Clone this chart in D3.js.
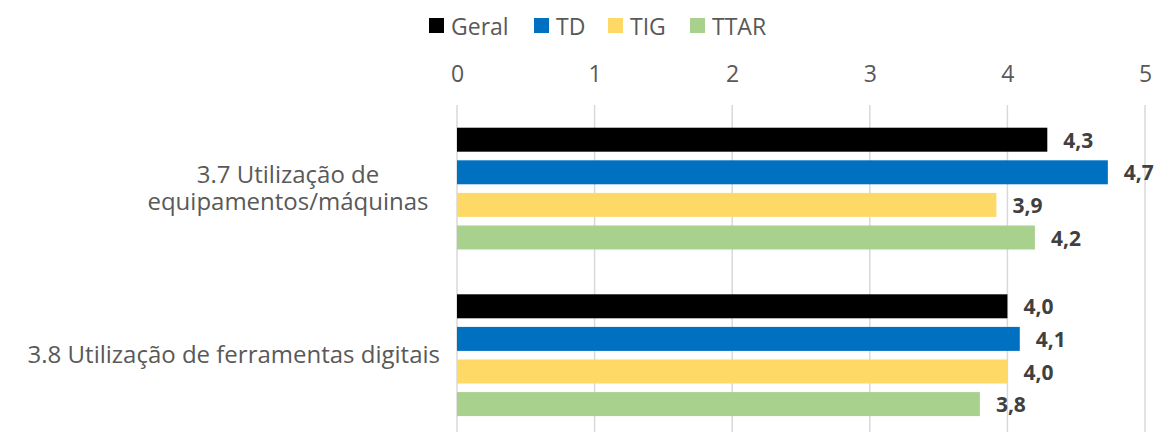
<!DOCTYPE html>
<html>
<head>
<meta charset="utf-8">
<script src="https://cdn.jsdelivr.net/npm/d3@7"></script>
<style>
  body { margin: 0; background: #fff; }
  svg { display: block; font-family: "Open Sans", sans-serif; }
</style>
</head>
<body>
<svg id="chart" width="1154" height="432"></svg>
<script>
// data
var categories = ["3.7 Utilização de equipamentos/máquinas", "3.8 Utilização de ferramentas digitais"];
var categoryLines = [["3.7 Utilização de", "equipamentos/máquinas"], ["3.8 Utilização de ferramentas digitais"]];
var seriesNames = ["Geral", "TD", "TIG", "TTAR"];
var seriesColors = ["#000000", "#0070C0", "#FFD966", "#A9D18E"];
var geral = [4.29, 4.0];
var td = [4.73, 4.09];
var tig = [3.92, 4.0];
var ttar = [4.2, 3.8];
var tickValues = [0, 1, 2, 3, 4, 5];

var seriesValues = [geral, td, tig, ttar];

var svg = d3.select("#chart");
var fmt = function(v) { return d3.format(".1f")(v).replace(".", ","); };

// scales
var x = d3.scaleLinear().domain([0, 5]).range([457, 1145]);
var y = d3.scaleBand().domain(categories).range([105.3, 438.5]);
var ySub = d3.scaleBand().domain(seriesNames).range([0, y.bandwidth()])
  .paddingInner(0.264).paddingOuter(0.687);

// grid lines
svg.append("g").selectAll("line").data(tickValues).enter().append("line")
  .attr("x1", function(d) { return x(d); })
  .attr("x2", function(d) { return x(d); })
  .attr("y1", 105).attr("y2", 432)
  .attr("stroke", "#d9d9d9").attr("stroke-width", 1.5);

// top axis labels
var axis = svg.append("g").attr("transform", "translate(0,105)")
  .call(d3.axisTop(x).tickValues(tickValues).tickSize(0).tickPadding(23).tickFormat(d3.format("d")));
axis.select(".domain").remove();
axis.selectAll("text").attr("font-size", 23).attr("fill", "#595959")
  .attr("font-family", "Open Sans, sans-serif");

// bars
seriesNames.forEach(function(name, i) {
  var g = svg.append("g");
  g.selectAll("rect").data(seriesValues[i]).enter().append("rect")
    .attr("x", x(0))
    .attr("y", function(d, j) { return y(categories[j]) + ySub(name); })
    .attr("width", function(d) { return x(d) - x(0); })
    .attr("height", ySub.bandwidth())
    .attr("fill", seriesColors[i]);

  g.selectAll("text").data(seriesValues[i]).enter().append("text")
    .attr("x", function(d) { return x(d) + 16; })
    .attr("y", function(d, j) { return y(categories[j]) + ySub(name) + ySub.bandwidth() / 2 + 8; })
    .attr("font-size", 21).attr("font-weight", "bold").attr("fill", "#404040")
    .text(fmt);
});

// category labels
categoryLines.forEach(function(lines, j) {
  var cy = y(categories[j]) + y.bandwidth() / 2;
  var t = svg.append("text")
    .attr("font-size", 24).attr("fill", "#595959")
    .attr("text-anchor", lines.length > 1 ? "middle" : "end");
  lines.forEach(function(line, k) {
    t.append("tspan")
      .attr("x", lines.length > 1 ? 288 : 440)
      .attr("y", cy + 8 + (k - (lines.length - 1) / 2) * 27)
      .text(line);
  });
});

// legend
var legendX = [429, 534, 608, 690];
var legend = svg.append("g");
seriesNames.forEach(function(name, i) {
  legend.append("rect").attr("x", legendX[i]).attr("y", 18)
    .attr("width", 15).attr("height", 15).attr("fill", seriesColors[i]);
  legend.append("text").attr("x", legendX[i] + 22).attr("y", 35)
    .attr("font-size", 23).attr("fill", "#595959").text(name);
});
</script>
</body>
</html>
